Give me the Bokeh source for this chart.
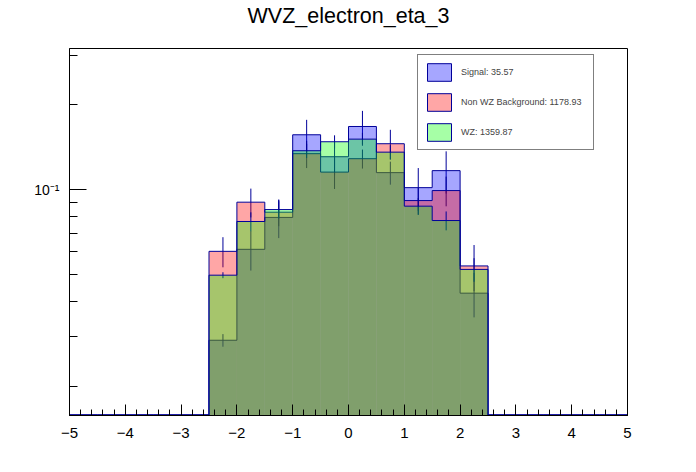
import numpy as np
from bokeh.plotting import figure
from bokeh.models import (FixedTicker, CustomJSTickFormatter, Legend, LinearAxis,
                          LegendItem, ColumnDataSource, Range1d)
from bokeh.embed import file_html
from bokeh.resources import INLINE

# binning: 20 bins of width 0.5 between -5 and 5
edges = np.linspace(-5, 5, 21)

# normalised bin contents (empty bins are 0)
signal = [0, 0, 0, 0, 0, 0.0291, 0.0613, 0.0796, 0.1567, 0.1309,
          0.1677, 0.1149, 0.1016, 0.1168, 0.0428, 0, 0, 0, 0, 0]
signal_err = [0, 0, 0, 0, 0, 0.0015, 0.0098, 0.0124, 0.0204, 0.0183,
              0.0229, 0.0108, 0.0177, 0.0200, 0.0077, 0, 0, 0, 0, 0]

nonwz = [0, 0, 0, 0, 0, 0.0603, 0.0902, 0.0831, 0.1342, 0.1154,
         0.1288, 0.1456, 0.0914, 0.0992, 0.0535, 0, 0, 0, 0, 0]
nonwz_err = [0, 0, 0, 0, 0, 0.0074, 0.0106, 0.0090, 0.0149, 0.0149,
             0.0100, 0.0176, 0.0100, 0.0120, 0.0100, 0, 0, 0, 0, 0]

wz = [0, 0, 0, 0, 0, 0.0496, 0.0770, 0.0849, 0.1375, 0.1480,
      0.1512, 0.1359, 0.0873, 0.0776, 0.0520, 0, 0, 0, 0, 0]
wz_err = [0, 0, 0, 0, 0, 0.0012, 0.0060, 0.0060, 0.0080, 0.0080,
          0.0080, 0.0080, 0.0060, 0.0060, 0.0050, 0, 0, 0, 0, 0]

labels = ["Signal: 35.57", "Non WZ Background: 1178.93", "WZ: 1359.87"]
fills = ["#0000ff", "#ff0000", "#00ff00"]
title = "WVZ_electron_eta_3"

x_ticks = list(range(-5, 6))
x_minor = [round(-5 + 0.2 * i, 1) for i in range(51)]
y_minor = [0.02, 0.03, 0.04, 0.05, 0.06, 0.07, 0.08, 0.09, 0.2, 0.3]

Y_MIN, Y_MAX = 0.01571, 0.3177
LINE = "#000099"
FONT = "Liberation Sans"

p = figure(width=680, height=456, y_axis_type="log",
           x_range=Range1d(-5, 5), y_range=Range1d(Y_MIN, Y_MAX),
           output_backend="svg", toolbar_location=None, tools="",
           min_border_left=69, min_border_right=53,
           min_border_top=47, min_border_bottom=41)
p.grid.visible = False
p.outline_line_color = "black"
p.outline_line_alpha = 1
p.background_fill_color = "white"
p.border_fill_color = "white"

xa = p.below[0]
ya = p.left[0]

# title drawn as the label of a bare axis on top, easier to place than p.title
top = LinearAxis(ticker=FixedTicker(ticks=[]), axis_label=title,
                 axis_line_color=None, major_tick_line_color=None,
                 minor_tick_line_color=None, major_tick_in=0, major_tick_out=0,
                 minor_tick_in=0, minor_tick_out=0,
                 major_label_text_font_size="0px",
                 major_label_standoff=0, axis_label_standoff=21,
                 axis_label_text_font=FONT, axis_label_text_font_size="21.5px",
                 axis_label_text_font_style="normal", axis_label_text_color="black")
p.add_layout(top, "above")

floor = Y_MIN * 1.004
centers = 0.5 * (edges[:-1] + edges[1:])

for vals, errs, fc in zip([signal, nonwz, wz], [signal_err, nonwz_err, wz_err], fills):
    vals = np.array(vals, dtype=float)
    errs = np.array(errs, dtype=float)
    m = errs > 0
    # error bars first, the fill of the same histogram goes over them
    p.segment(x0=centers[m], y0=vals[m] - errs[m], x1=centers[m], y1=vals[m] + errs[m],
              line_color=LINE, line_width=1)
    tops = np.where(vals > 0, vals, floor)
    p.quad(left=edges[:-1], right=edges[1:], bottom=Y_MIN * 0.5, top=tops,
           fill_color=fc, fill_alpha=0.35, line_color=None)
    p.step(x=edges, y=np.append(tops, tops[-1]), mode="after",
           line_color=LINE, line_width=1)

# axes
xa.ticker = FixedTicker(ticks=x_ticks, minor_ticks=x_minor)
xa.formatter = CustomJSTickFormatter(code="return tick < 0 ? '\u2212' + (-tick) : '' + tick;")
xa.major_tick_in = 11
xa.major_tick_out = 0
xa.minor_tick_in = 6
xa.minor_tick_out = 0
xa.major_label_standoff = 12
xa.major_label_text_font = FONT
xa.major_label_text_font_size = "15px"
xa.major_label_text_color = "black"
xa.axis_line_color = "black"
xa.major_tick_line_color = "black"
xa.minor_tick_line_color = "black"

ya.ticker = FixedTicker(ticks=[0.1], minor_ticks=y_minor)
ya.formatter = CustomJSTickFormatter(code="return '10\u207b\u00b9';")
ya.major_tick_in = 17
ya.major_tick_out = 0
ya.minor_tick_in = 8
ya.minor_tick_out = 0
ya.major_label_standoff = 10
ya.major_label_text_font = FONT
ya.major_label_text_font_size = "14px"
ya.major_label_text_color = "black"
ya.axis_line_color = "black"
ya.major_tick_line_color = "black"
ya.minor_tick_line_color = "black"

# legend entries: off-range boxes that carry the look of each histogram
dummy = ColumnDataSource(dict(l=[20], r=[21], b=[1], t=[2]))
items = []
for lab, fc in zip(labels, fills):
    r = p.quad(left="l", right="r", bottom="b", top="t", source=dummy,
               fill_color=fc, fill_alpha=0.35, line_color=LINE, line_width=1)
    items.append(LegendItem(label=lab, renderers=[r]))

legend = Legend(items=items, location=(348, 265), margin=0, padding=6,
                spacing=8, glyph_width=30, glyph_height=22, label_height=22,
                label_width=126, label_standoff=7, label_text_font=FONT,
                label_text_font_size="9px",
                border_line_color="black", border_line_width=1,
                background_fill_color="white", background_fill_alpha=1)
p.add_layout(legend)

open("out.html", "w").write(file_html(p, INLINE))
